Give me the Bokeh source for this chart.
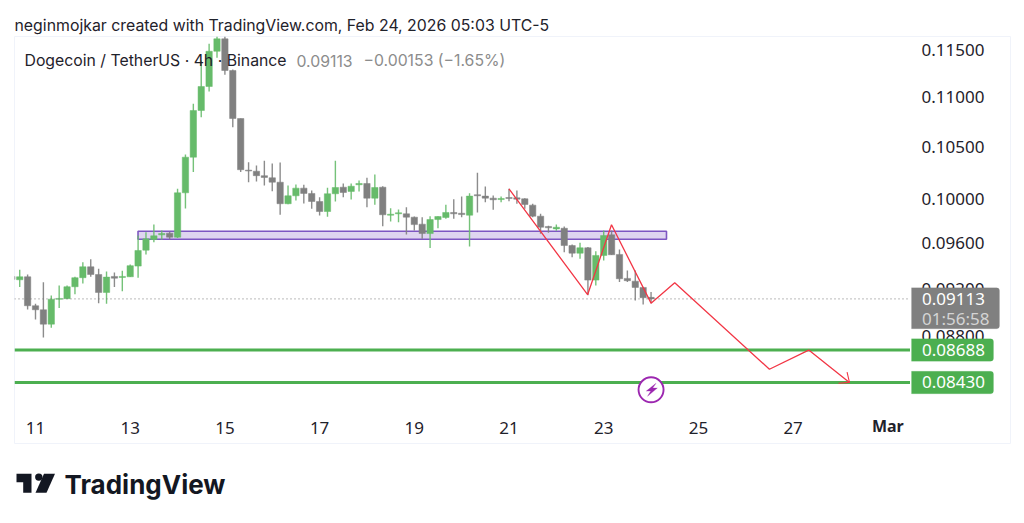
import numpy as np
from bokeh.plotting import figure
from bokeh.layouts import column
from bokeh.models import Range1d, FixedTicker, PrintfTickFormatter, Label, BoxAnnotation
from bokeh.embed import file_html
from bokeh.resources import INLINE

FONT = "Inter"
AXIS_FONT = "Noto Sans"
INK = "#1f222b"
GREEN = "#66bb6a"
GRAY = "#808080"
LINE_GREEN = "#4caf50"
RED = "#f23645"
PURPLE = "#7e57c2"

# --- values -----------------------------------------------------------------
first_candle_day = 10.5
opens = [.09306,.09277,.09303,.09055,.09021,.08901,.09109,.09115,.09217,.09295,.09390,.09323,.09168,.09306,.09297,
         .09303,.09396,.09537,.09632,.09674,.09689,.09653,.10061,.10401,.10864,.11110,.11481,.11615,.11277,.10783,
         .10276,.10266,.10223,.10203,.10161,.09959,.10033,.10105,.10055,.09980,.09887,.10052,.10114,.10074,.10137,
         .10149,.10011,.10114,.09853,.09866,.09866,.09835,.09771,.09686,.09813,.09832,.09878,.09871,.09853,.10043,
         .10030,.10011,.09998,.10017,.10014,.10005,.09946,.09844,.09750,.09728,.09734,.09578,.09510,.09558,.09274,
         .09490,.09674,.09499,.09289,.09265,.09211,.09126]
highs = [.09341,.09364,.09323,.09072,.09256,.09141,.09228,.09228,.09303,.09431,.09457,.09373,.09349,.09341,.09355,
         .09411,.09668,.09698,.09767,.09713,.09701,.10099,.10427,.10932,.11382,.11561,.11640,.11640,.11287,.10783,
         .10353,.10321,.10366,.10340,.10350,.10130,.10139,.10137,.10083,.10020,.10108,.10366,.10149,.10149,.10177,
         .10203,.10235,.10123,.09917,.09905,.09927,.09841,.09835,.09844,.09844,.09950,.10001,.10026,.10057,.10251,
         .10121,.10036,.10026,.10099,.10083,.10011,.09959,.09866,.09756,.09767,.09750,.09587,.09602,.09564,.09528,
         .09713,.09713,.09543,.09358,.09358,.09214,.09171]
lows = [.09254,.09214,.09023,.08940,.08791,.08871,.09035,.09113,.09153,.09245,.09303,.09077,.09072,.09214,.09179,
        .09300,.09295,.09499,.09608,.09629,.09635,.09646,.09915,.10257,.10796,.11058,.11411,.11232,.10696,.10257,
        .10161,.10168,.10130,.10076,.09857,.09955,.09989,.09961,.09912,.09850,.09838,.09980,.10020,.09998,.10074,
        .09927,.09950,.09752,.09795,.09788,.09677,.09713,.09638,.09555,.09734,.09820,.09820,.09835,.09570,.09878,
        .09973,.09903,.09973,.09982,.09959,.09912,.09835,.09683,.09692,.09710,.09519,.09475,.09461,.09143,.09228,
        .09446,.09493,.09257,.09257,.09100,.09066,.09077]
closes = [.09280,.09303,.09055,.09021,.08901,.09111,.09117,.09217,.09295,.09390,.09323,.09168,.09300,.09291,.09306,
          .09400,.09534,.09638,.09665,.09686,.09653,.10061,.10401,.10864,.11110,.11481,.11615,.11277,.10783,.10280,
          .10268,.10223,.10206,.10161,.09959,.10033,.10105,.10055,.09980,.09887,.10052,.10111,.10064,.10123,.10149,
          .10011,.10111,.09857,.09862,.09875,.09835,.09767,.09686,.09813,.09841,.09878,.09866,.09859,.10030,.10033,
          .10011,.09996,.10008,.10008,.10001,.09952,.09844,.09743,.09738,.09743,.09578,.09510,.09558,.09274,.09490,
          .09668,.09496,.09286,.09269,.09211,.09123,.09113]

price_ticks = [0.115, 0.11, 0.105, 0.1, 0.096, 0.092, 0.088]
day_ticks = [11, 13, 15, 17, 19, 21, 23, 25, 27]
last_price = 0.09113
levels = [0.08688, 0.0843]
level_labels = ["0.08688", "0.08430"]
zone_days = [13.165, 24.326]
zone_prices = [0.09635, 0.09707]
path_days = [21.0, 22.66, 23.165, 24.0, 24.5, 26.5, 27.33, 28.19]
path_prices = [0.10099, 0.09149, 0.09765, 0.09077, 0.09251, 0.08534, 0.08688, 0.0843]
head_days = [27.96, 28.19, 28.14]
head_prices = [0.08423, 0.0843, 0.08511]
alert_day = 24.0

# --- scales -----------------------------------------------------------------
FRAME_L, FRAME_R, FRAME_T, FRAME_B = 14, 1010, 36, 443
PX_PER_DAY = 47.35
PX_PER_LOG = 1072.0

def px_to_day(x):
    return 11 + (np.asarray(x, float) - 35) / PX_PER_DAY

def px_to_price(y):
    return 0.115 * np.exp(-(np.asarray(y, float) - 49) / PX_PER_LOG)

D_LEFT, D_RIGHT = float(px_to_day(FRAME_L)), float(px_to_day(FRAME_R))
P_TOP, P_BOTTOM = float(px_to_price(FRAME_T)), float(px_to_price(FRAME_B))
PANE_END = float(px_to_day(909.5))

p = figure(width=1016, height=444, output_backend="svg", toolbar_location=None,
           x_range=Range1d(D_LEFT, D_RIGHT), y_range=Range1d(P_BOTTOM, P_TOP),
           y_axis_type="log", y_axis_location="right",
           min_border_left=FRAME_L, min_border_right=1016 - FRAME_R,
           min_border_top=FRAME_T, min_border_bottom=444 - FRAME_B,
           background_fill_color="white", border_fill_color="white",
           outline_line_color="#f0f3fa", outline_line_width=1)
p.grid.visible = False

p.title.text = "neginmojkar created with TradingView.com, Feb 24, 2026 05:03 UTC-5"
p.title.text_font = FONT
p.title.text_font_size = "15.85px"
p.title.text_font_style = "normal"
p.title.text_color = INK
p.title.offset = 0
p.title.standoff = 4

ya = p.yaxis[0]
ya.ticker = FixedTicker(ticks=price_ticks)
ya.formatter = PrintfTickFormatter(format="%.5f")
ya.fixed_location = float(px_to_day(911))
xa = p.xaxis[0]
xa.ticker = FixedTicker(ticks=day_ticks)
xa.fixed_location = float(px_to_price(410))
for ax in (ya, xa):
    ax.axis_line_color = None
    ax.major_tick_line_color = None
    ax.minor_tick_line_color = None
    ax.major_label_text_font = AXIS_FONT
    ax.major_label_text_font_size = "17px"
    ax.major_label_text_color = INK
ya.major_label_standoff = 4
xa.major_label_standoff = 5

# --- zone -------------------------------------------------------------------
p.quad(left=[zone_days[0]], right=[zone_days[1]], bottom=[zone_prices[0]], top=[zone_prices[1]],
       fill_color="#7e57c2", fill_alpha=0.25, line_color=PURPLE, line_width=1.6)

# --- candles ----------------------------------------------------------------
days = first_candle_day + np.arange(len(opens)) / 6
o, h, l, c = map(np.array, (opens, highs, lows, closes))
colors = [GREEN if ci >= oi else GRAY for oi, ci in zip(o, c)]
p.segment(days, h, days, l, line_color=colors, line_width=1.4, line_alpha=0.9)
p.vbar(x=days, width=0.134, top=np.maximum(o, c), bottom=np.minimum(o, c),
       fill_color=colors, line_color=colors, line_width=0.5)

# --- lines ------------------------------------------------------------------
p.line([D_LEFT, PANE_END], [last_price, last_price], line_color="#777777", line_width=1, line_dash="1 3")
for lv in levels:
    p.line([D_LEFT, PANE_END], [lv, lv], line_color=LINE_GREEN, line_width=3)
p.line(path_days, path_prices, line_color=RED, line_width=1.3)
p.line(head_days, head_prices, line_color=RED, line_width=1.1)

# --- alert icon -------------------------------------------------------------
p.scatter([alert_day], [float(px_to_price(389.3))], marker="circle", size=25,
          fill_color="white", line_color="#9c27b0", line_width=1.9)
bolt_x = px_to_day([655.5, 645.8, 650.3, 647, 656.8, 652.2])
bolt_y = px_to_price([382.8, 390.6, 390.6, 395.8, 387.6, 387.6])
p.patch(bolt_x, bolt_y, fill_color="#9c27b0", line_color="#9c27b0", line_width=0.3)

# --- legend text ------------------------------------------------------------
def text(x, y, s, size="17px", color=INK, style="normal", font=AXIS_FONT, x_units="screen", align="left"):
    p.add_layout(Label(x=x, y=y, text=s, x_units=x_units, y_units="data", text_font=font, text_font_size=size,
                       text_color=color, text_font_style=style, text_baseline="middle", text_align=align))

legend_y = float(px_to_price(60))
text(10, legend_y, "Dogecoin / TetherUS · 4h · Binance", size="15.8px", font=FONT)
text(282, legend_y, "0.09113", size="15.8px", color="#8c8c8c", font=FONT)
text(349, legend_y, "−0.00153 (−1.65%)", size="15.8px", color="#8c8c8c", font=FONT)
text(29, float(px_to_price(425)), "Mar", size="16px", style="bold", x_units="data", align="center")

# --- price tags -------------------------------------------------------------
def tag(y0, y1, right, color):
    p.add_layout(BoxAnnotation(left=911 - FRAME_L, left_units="screen", right=right, right_units="screen",
                               top=float(px_to_price(y0)), bottom=float(px_to_price(y1)),
                               fill_color=color, fill_alpha=1, line_color=color, line_width=0.5,
                               border_radius=dict(top_left=0, top_right=3, bottom_right=3, bottom_left=0)))

tag(287.3, 328.3, 985, GRAY)
tag(338.3, 360.7, 979, LINE_GREEN)
tag(370.7, 393.3, 979, LINE_GREEN)
text(907.5, last_price, "0.09113", color="white")
text(907.5, float(px_to_price(317.5)), "01:56:58", color="#d4d4d4")
for lv, s in zip(levels, level_labels):
    text(907.5, lv, s, color="white")

# --- footer logo ------------------------------------------------------------
f = figure(width=1016, height=60, output_backend="svg", toolbar_location=None,
           x_range=Range1d(FRAME_L, FRAME_R), y_range=Range1d(504, 444),
           min_border_left=FRAME_L, min_border_right=1016 - FRAME_R, min_border_top=0, min_border_bottom=0,
           outline_line_color=None, background_fill_color="white", border_fill_color="white")
f.axis.visible = False
f.grid.visible = False
f.patch([16, 31, 31, 22.7, 22.7, 16], [473.3, 473.3, 492.3, 492.3, 481.7, 481.7], fill_color="#131722", line_color=None)
f.scatter([38.3], [476.6], marker="circle", size=7.4, fill_color="#131722", line_color=None)
f.patch([43.5, 54.5, 46, 35], [473.3, 473.3, 492.3, 492.3], fill_color="#131722", line_color=None)
f.add_layout(Label(x=64, y=483.5, text="TradingView", text_font=FONT, text_font_size="26px",
                   text_font_style="bold", text_color="#131722", text_baseline="middle"))

open("out.html", "w").write(file_html(column(p, f, spacing=0), INLINE))
